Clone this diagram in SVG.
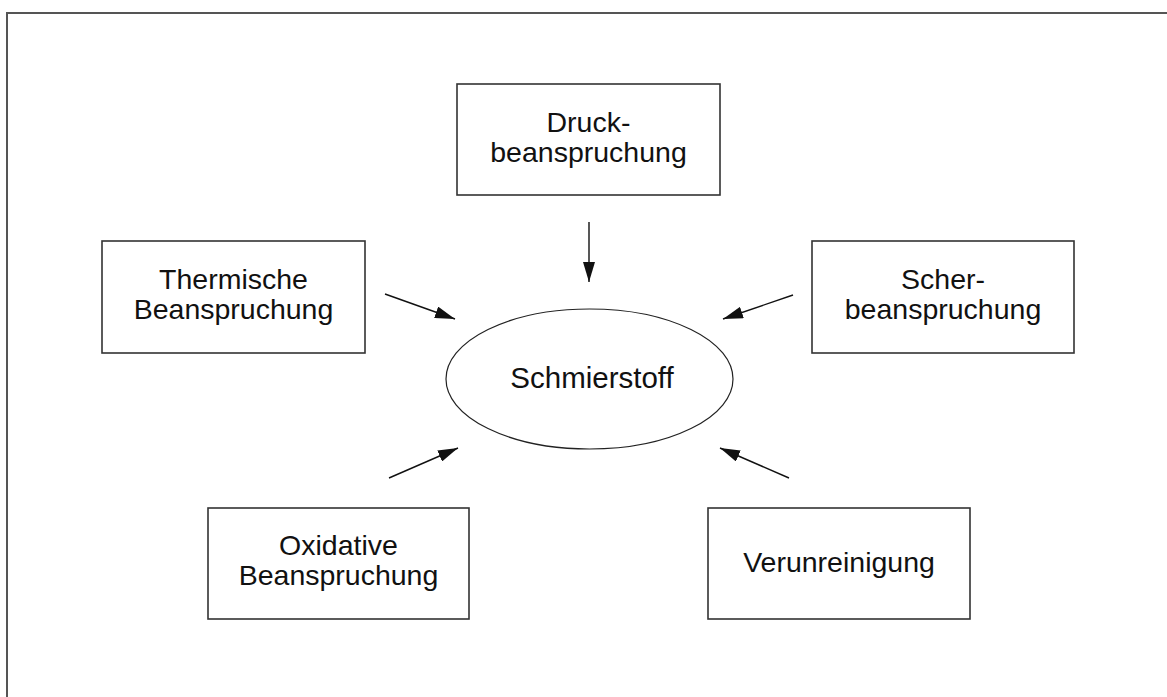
<svg xmlns="http://www.w3.org/2000/svg" width="1167" height="697" viewBox="0 0 1167 697">
<style>
.box{fill:#fff;stroke:#333;stroke-width:1.6}
.t{font-family:"Liberation Sans",Arial,sans-serif;font-size:28.5px;fill:#111;text-anchor:middle}
.c{stroke:#111;stroke-width:1.4;fill:none;marker-end:url(#ah)}
</style>
<defs>
<marker id="ah" markerWidth="20" markerHeight="12" refX="20" refY="6" orient="auto" markerUnits="userSpaceOnUse">
<path d="M0,0 L20,6 L0,12 Z" fill="#111"/>
</marker>
</defs>
<rect width="1167" height="697" fill="#fff"/>
<rect x="7" y="13" width="1200" height="720" fill="none" stroke="#555" stroke-width="2"/>
<g id="druck"><rect class="box" x="457" y="84" width="263" height="111"/><text class="t" x="588.5" y="132">Druck-</text><text class="t" x="588.5" y="162">beanspruchung</text></g>
<g id="thermisch"><rect class="box" x="102" y="241" width="263" height="112"/><text class="t" x="233.5" y="289">Thermische</text><text class="t" x="233.5" y="319">Beanspruchung</text></g>
<g id="scher"><rect class="box" x="812" y="241" width="262" height="112"/><text class="t" x="943" y="289">Scher-</text><text class="t" x="943" y="319">beanspruchung</text></g>
<g id="oxidativ"><rect class="box" x="208" y="508" width="261" height="111"/><text class="t" x="338.5" y="555">Oxidative</text><text class="t" x="338.5" y="585">Beanspruchung</text></g>
<g id="verunreinigung"><rect class="box" x="708" y="508" width="262" height="111"/><text class="t" x="839" y="572">Verunreinigung</text></g>
<g id="schmierstoff"><ellipse cx="589.5" cy="379" rx="143.5" ry="70" fill="#fff" stroke="#222" stroke-width="1.2"/><text class="t" x="592" y="388" style="font-size:29.5px">Schmierstoff</text></g>
<g id="connectors">
<line class="c" x1="589" y1="222" x2="589" y2="282"/>
<line class="c" x1="385" y1="294" x2="455" y2="319"/>
<line class="c" x1="793" y1="295" x2="723" y2="319"/>
<line class="c" x1="389" y1="478" x2="458" y2="448"/>
<line class="c" x1="789" y1="478" x2="720" y2="448"/>
</g>
</svg>
